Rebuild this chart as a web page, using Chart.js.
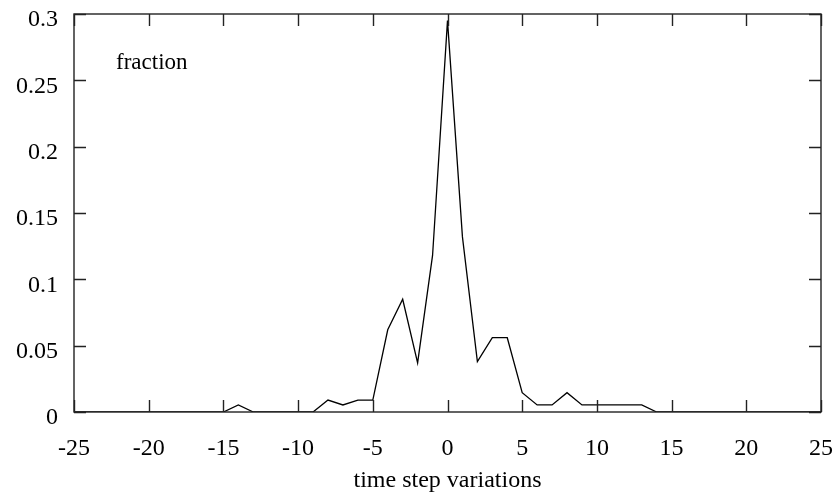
<!DOCTYPE html>
<html>
<head>
<meta charset="utf-8">
<script src="https://cdn.jsdelivr.net/npm/chart.js@4/dist/chart.umd.min.js"></script>
<style>
  html, body { margin: 0; padding: 0; background: #fff; }
  #wrap { width: 838px; height: 497px; }
</style>
</head>
<body>
<div id="wrap"><canvas id="chart"></canvas></div>
<script>
// data
const steps = [-25, -24, -23, -22, -21, -20, -19, -18, -17, -16,
               -15, -14, -13, -12, -11, -10, -9, -8, -7, -6,
               -5, -4, -3, -2, -1, 0, 1, 2, 3, 4,
               5, 6, 7, 8, 9, 10, 11, 12, 13, 14,
               15, 16, 17, 18, 19, 20, 21, 22, 23, 24, 25];
const fractions = [0, 0, 0, 0, 0, 0, 0, 0, 0, 0,
                   0, 0.0053, 0, 0, 0, 0, 0, 0.009, 0.0053, 0.009,
                   0.009, 0.062, 0.085, 0.037, 0.118, 0.295, 0.132, 0.038, 0.056, 0.056,
                   0.0146, 0.0053, 0.0053, 0.0146, 0.0053, 0.0053, 0.0053, 0.0053, 0.0053, 0,
                   0, 0, 0, 0, 0, 0, 0, 0, 0, 0, 0];
const xTicks = [-25, -20, -15, -10, -5, 0, 5, 10, 15, 20, 25];
const yTicks = [0, 0.05, 0.1, 0.15, 0.2, 0.25, 0.3];
const yLabel = 'fraction';
const xLabel = 'time step variations';

const serif = '"Liberation Serif", "DejaVu Serif", serif';

// box round the plot, inward ticks on all four sides, and the inner label
const framePlugin = {
  id: 'frame',
  afterDatasetsDraw(chart) {
    const { ctx, chartArea: a, scales } = chart;
    const len = 12;
    ctx.save();
    ctx.strokeStyle = '#222';
    ctx.lineWidth = 1.4;
    ctx.strokeRect(a.left, a.top, a.right - a.left, a.bottom - a.top);
    ctx.beginPath();
    xTicks.forEach(v => {
      const px = Math.round(scales.x.getPixelForValue(v)) + 0.5;
      ctx.moveTo(px, a.bottom); ctx.lineTo(px, a.bottom - len);
      ctx.moveTo(px, a.top); ctx.lineTo(px, a.top + len);
    });
    yTicks.forEach(v => {
      const py = Math.round(scales.y.getPixelForValue(v)) + 0.5;
      ctx.moveTo(a.left, py); ctx.lineTo(a.left + len, py);
      ctx.moveTo(a.right, py); ctx.lineTo(a.right - len, py);
    });
    ctx.stroke();
    ctx.fillStyle = '#000';
    ctx.font = '23px ' + serif;
    ctx.textAlign = 'left';
    ctx.textBaseline = 'alphabetic';
    ctx.fillText(yLabel, a.left + 42, a.top + 55);
    ctx.restore();
  }
};

new Chart(document.getElementById('chart'), {
  type: 'line',
  data: {
    datasets: [{
      data: steps.map((s, i) => ({ x: s, y: fractions[i] })),
      borderColor: '#000',
      borderWidth: 1.3,
      pointRadius: 0,
      tension: 0,
      fill: false
    }]
  },
  options: {
    responsive: true,
    maintainAspectRatio: false,
    animation: false,
    layout: { padding: { left: 0, right: 17, top: 14, bottom: 0 } },
    plugins: { legend: { display: false }, tooltip: { enabled: false } },
    scales: {
      x: {
        type: 'linear',
        min: -25,
        max: 25,
        afterBuildTicks: s => { s.ticks = xTicks.map(v => ({ value: v })); },
        afterFit: s => { s.height = 85; s.paddingLeft = 0; s.paddingRight = 0; },
        grid: { display: false, drawTicks: false },
        border: { display: false },
        ticks: {
          color: '#000',
          font: { family: serif, size: 24 },
          padding: 22,
          maxRotation: 0,
          autoSkip: false
        },
        title: {
          display: true,
          text: xLabel,
          color: '#000',
          font: { family: serif, size: 24 },
          padding: { top: 0, bottom: 2 }
        }
      },
      y: {
        min: 0,
        max: 0.3,
        afterBuildTicks: s => { s.ticks = yTicks.map(v => ({ value: v })); },
        afterFit: s => { s.width = 74; s.paddingTop = 0; s.paddingBottom = 0; },
        grid: { display: false, drawTicks: false },
        border: { display: false },
        ticks: {
          color: '#000',
          font: { family: serif, size: 24 },
          padding: 16,
          labelOffset: 6,
          autoSkip: false,
          callback: v => String(v)
        }
      }
    }
  },
  plugins: [framePlugin]
});
</script>
</body>
</html>
